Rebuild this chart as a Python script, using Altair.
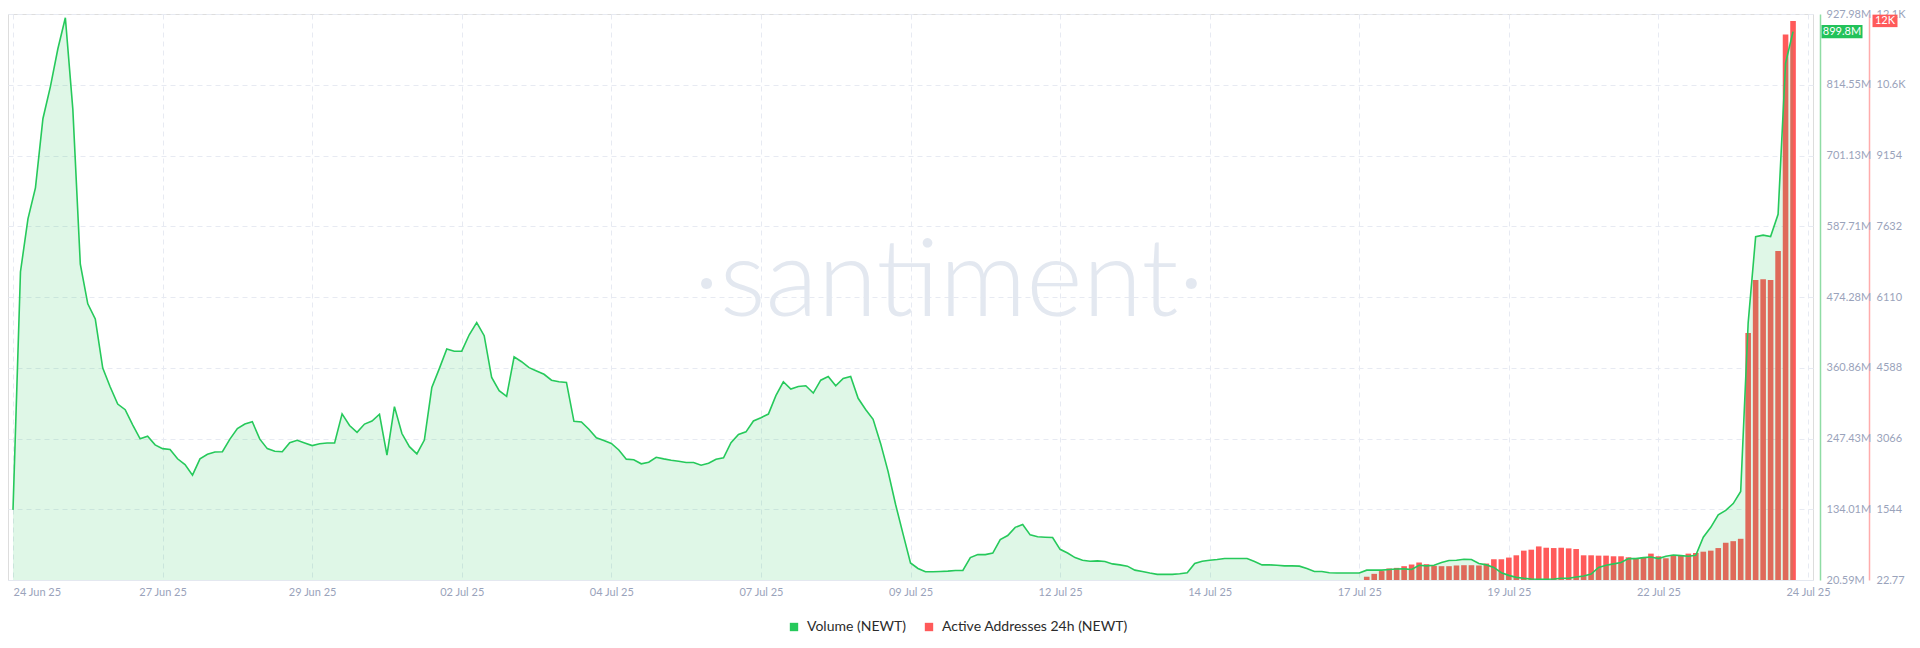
import json
import altair as alt
import pandas as pd

# ---------------- data ----------------
STEP_HOURS = 3  # one point every 3 hours, starting 24 Jun 25 00:00

VOLUME_M = [
    133, 514.8, 599.6, 649.3, 760.1, 811.6, 872.3, 922, 775.4, 526.9,
    463.3, 439.1, 360.2, 330, 302.7, 293.6, 269.3, 247, 251.1, 237.2,
    231.2, 229.9, 214.9, 205.7, 188.7, 214.9, 222.1, 225.8, 226.3, 246.4,
    263.3, 270.6, 274.2, 246.4, 231.2, 226.9, 226.3, 240.8, 244.5, 240.2,
    236.1, 239.1, 240.2, 240.2, 286.9, 268.2, 257.3, 270.6, 275.4, 286.3,
    220.9, 298.5, 255.4, 234.3, 222.8, 245, 329.3, 359.4, 391.1, 387.4,
    387.4, 413.7, 433.3, 412.2, 345.2, 324.1, 315.1, 378.4, 370.5, 361,
    355.8, 350.4, 340.9, 338.4, 337.3, 275, 273.9, 262.3, 248.6, 244.3,
    239.6, 229.1, 214.3, 213.3, 206.9, 209.5, 217.4, 214.8, 212.7, 211.1,
    209, 209, 204.7, 207.9, 214.3, 216.5, 240.7, 253.8, 258.1, 275.5,
    280.7, 286.6, 316.2, 338.4, 326.7, 330.9, 332, 320.3, 340.9, 346.8,
    332, 343.6, 346.8, 311.9, 294, 278.2, 239.6, 194.8, 142, 94.5,
    48, 39.1, 33.7, 33.7, 34.3, 34.8, 35.9, 35.9, 56.5, 61.3,
    61.3, 63.8, 85.5, 91.8, 105, 109.7, 92.9, 89.8, 89.2, 88.7,
    69.8, 63.8, 56.5, 52.3, 50.7, 51.2, 50.2, 46.4, 44.8, 42.8,
    36.4, 34.3, 31.7, 29.6, 29.6, 29.6, 30.6, 32.2, 47, 50.7,
    52.3, 53.4, 55, 55, 55, 55, 50.2, 44.8, 44.8, 44.3,
    43.2, 43.2, 42.8, 39.1, 34.3, 34.3, 32.2, 31.7, 31.7, 31.7,
    31.7, 36.4, 36.4, 36.4, 37.5, 38.3, 38.5, 37.5, 44.3, 43.2,
    44.3, 48.6, 51.8, 52.3, 53.8, 53.4, 47, 44.8, 40.7, 32.2,
    28, 24.8, 23.3, 22.2, 21.7, 21.7, 22.2, 23.3, 23.3, 25.3,
    26.9, 30.1, 40.7, 44.3, 46.4, 48.6, 54.9, 54.9, 56.5, 57.5,
    54.9, 58.6, 60.7, 59.7, 58.6, 60.2, 89.2, 105, 124.9, 132.2,
    143.1, 162.5, 432.9, 571.1, 573.5, 571.1, 606.9, 849.3, 899.8,
]

ACTIVE_START_INDEX = 181
ACTIVE = [
    93, 155, 215, 271, 284, 320, 356, 399, 363, 327,
    320, 320, 335, 341, 341, 335, 377, 469, 469, 505,
    554, 654, 675, 745, 717, 710, 717, 703, 689, 554,
    554, 547, 547, 533, 533, 511, 497, 518, 590, 533,
    490, 554, 554, 590, 603, 632, 654, 710, 824, 858,
    909, 5336, 6475, 6492, 6475, 7102, 11758, 12050,
]

X_TICK_LABELS = ["24 Jun 25", "27 Jun 25", "29 Jun 25", "02 Jul 25", "04 Jul 25",
                 "07 Jul 25", "09 Jul 25", "12 Jul 25", "14 Jul 25", "17 Jul 25",
                 "19 Jul 25", "22 Jul 25", "24 Jul 25"]
X_TICK_STEP_HOURS = 60
VOL_TICK_LABELS = ["20.59M", "134.01M", "247.43M", "360.86M", "474.28M",
                   "587.71M", "701.13M", "814.55M", "927.98M"]
VOL_MIN, VOL_MAX = 20.59, 927.98
ACT_TICK_LABELS = ["22.77", "1544", "3066", "4588", "6110", "7632", "9154", "10.6K", "12.1K"]
ACT_MIN, ACT_MAX = 22.77, 12198

VOL_NAME = "Volume (NEWT)"
ACT_NAME = "Active Addresses 24h (NEWT)"
VOL_TAG = "899.8M"
ACT_TAG = "12K"

# ---------------- styling ----------------
GREEN = "#26c95b"
RED = "#ff5a5a"
LABEL_COLOR = "#9aa3bb"
GRID_COLOR = "#e7eaf2"
FONT = "Lato"
W, H = 1805, 566

vol_df = pd.DataFrame({
    "hour": [i * STEP_HOURS for i in range(len(VOLUME_M))],
    "volume": VOLUME_M,
    "base": VOL_MIN,
})
act_df = pd.DataFrame({
    "hour": [(ACTIVE_START_INDEX + i) * STEP_HOURS for i in range(len(ACTIVE))],
    "active": ACTIVE,
    "base": ACT_MIN,
    "series": ACT_NAME,
})

n_x = len(X_TICK_LABELS)
x_values = [i * X_TICK_STEP_HOURS for i in range(n_x)]
x_max = x_values[-1]
vol_step = (VOL_MAX - VOL_MIN) / (len(VOL_TICK_LABELS) - 1)
vol_values = [VOL_MIN + k * vol_step for k in range(len(VOL_TICK_LABELS))]
act_step = (ACT_MAX - ACT_MIN) / (len(ACT_TICK_LABELS) - 1)
act_values = [ACT_MIN + k * act_step for k in range(len(ACT_TICK_LABELS))]

x_scale = alt.Scale(domain=[0, x_max], nice=False, zero=False)
x_axis = alt.Axis(
    values=x_values,
    labelExpr=f"{json.dumps(X_TICK_LABELS)}[round(datum.value / {X_TICK_STEP_HOURS})]",
    grid=True, gridDash=[5, 4], gridColor=GRID_COLOR,
    ticks=False, domainColor="#e4e8f0", labelColor=LABEL_COLOR, labelFontSize=11,
    labelFont=FONT, labelPadding=6, title=None,
    labelAlign=alt.condition("datum.value == 0", alt.value("left"), alt.value("center")),
)
X = alt.X("hour:Q", scale=x_scale, axis=x_axis)

vol_scale = alt.Scale(domain=[VOL_MIN, VOL_MAX], nice=False, zero=False)
vol_axis = alt.Axis(
    orient="right", offset=7, values=vol_values,
    labelExpr=f"{json.dumps(VOL_TICK_LABELS)}[round((datum.value - {VOL_MIN}) / {vol_step})]",
    grid=True, gridDash=[5, 4], gridColor=GRID_COLOR,
    ticks=False, domainColor="#8fdca4", domainWidth=1.5,
    labelColor=LABEL_COLOR, labelFontSize=11, labelFont=FONT, labelPadding=6, title=None,
)
act_scale = alt.Scale(domain=[ACT_MIN, ACT_MAX], nice=False, zero=False)
act_axis = alt.Axis(
    orient="right", offset=56, values=act_values,
    labelExpr=f"{json.dumps(ACT_TICK_LABELS)}[round((datum.value - {ACT_MIN}) / {act_step})]",
    grid=False, ticks=False, domainColor="#ffacac", domainWidth=1.5,
    labelColor=LABEL_COLOR, labelFontSize=11, labelFont=FONT, labelPadding=7, title=None,
)

# ---------------- watermark ----------------
watermark = alt.Chart(pd.DataFrame({"t": ["·santiment·"]})).mark_text(
    fontSize=108, font=FONT, fontWeight=300, color="#e3e8f0", align="center", baseline="alphabetic"
).encode(text="t:N", x=alt.value(941), y=alt.value(302))

# ---------------- active addresses (bars) ----------------
bars = alt.Chart(act_df).mark_bar(size=5.6).encode(
    x=X,
    y=alt.Y("active:Q", scale=act_scale, axis=act_axis),
    y2="base:Q",
    color=alt.Color("series:N",
                    scale=alt.Scale(domain=[VOL_NAME, ACT_NAME], range=[GREEN, RED]),
                    legend=alt.Legend(orient="none", legendX=779, legendY=606, direction="horizontal",
                                      title=None, symbolType="square", symbolSize=70,
                                      symbolStrokeWidth=0, labelFontSize=14, labelFont=FONT,
                                      labelColor="#2b2b2b", columnPadding=16, labelOffset=6,
                                      labelLimit=0)),
)
TAG_PATH_ACT = "M-1,-0.5L1,-0.5L1,0.5L-1,0.5Z"
act_tag_df = pd.DataFrame({"v": [ACTIVE[-1]], "label": [ACT_TAG]})
act_tag = alt.Chart(act_tag_df).mark_point(
    shape=TAG_PATH_ACT, filled=True, size=25 * 25, color=RED, opacity=1, strokeWidth=0
).encode(x=alt.value(1877), y=alt.Y("v:Q", scale=act_scale, axis=act_axis))
act_tag_text = alt.Chart(act_tag_df).mark_text(
    color="white", fontSize=11, font=FONT, align="center", baseline="middle"
).encode(x=alt.value(1877), y=alt.Y("v:Q", scale=act_scale, axis=act_axis), text="label:N")
act_layer = alt.layer(bars, act_tag, act_tag_text)

# ---------------- volume (area + line) ----------------
area = alt.Chart(vol_df).mark_area(color=GREEN, opacity=0.15).encode(
    x=X, y=alt.Y("volume:Q", scale=vol_scale, axis=vol_axis), y2="base:Q"
)
line = alt.Chart(vol_df).mark_line(color=GREEN, strokeWidth=1.6).encode(
    x=X, y=alt.Y("volume:Q", scale=vol_scale, axis=vol_axis)
)
TAG_PATH_VOL = "M-1,-0.32L1,-0.32L1,0.32L-1,0.32Z"
vol_tag_df = pd.DataFrame({"v": [VOLUME_M[-1]], "label": [VOL_TAG]})
vol_tag = alt.Chart(vol_tag_df).mark_point(
    shape=TAG_PATH_VOL, filled=True, size=41 * 41, color="#22c25a", opacity=1, strokeWidth=0
).encode(x=alt.value(1834), y=alt.Y("v:Q", scale=vol_scale, axis=vol_axis))
vol_tag_text = alt.Chart(vol_tag_df).mark_text(
    color="white", fontSize=11, font=FONT, align="center", baseline="middle"
).encode(x=alt.value(1834), y=alt.Y("v:Q", scale=vol_scale, axis=vol_axis), text="label:N")
vol_layer = alt.layer(area, line, vol_tag, vol_tag_text)

chart = alt.layer(watermark, act_layer, vol_layer).resolve_scale(
    y="independent"
).properties(
    width=W, height=H, padding={"left": 0, "top": 0, "right": 4, "bottom": 0},
    background="white",
).configure_view(stroke=None).configure(font=FONT)

chart.save("out.html", embed_options={"renderer": "svg", "actions": False})
